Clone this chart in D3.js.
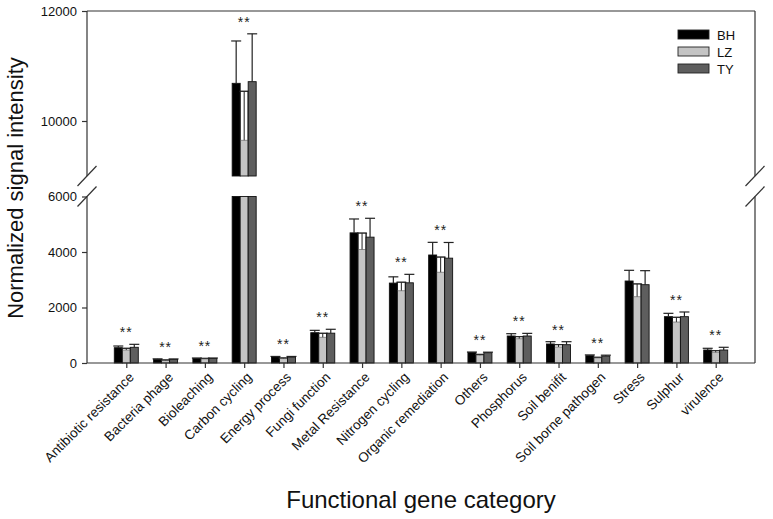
<!DOCTYPE html>
<html><head><meta charset="utf-8">
<script src="https://cdn.jsdelivr.net/npm/d3@7"></script>
<style>
body{margin:0;background:#fff;}
text{font-family:"Liberation Sans",Arial,sans-serif;}
</style></head>
<body><svg id="c" width="773" height="519"></svg>
<script>
const categories = ["Antibiotic resistance","Bacteria phage","Bioleaching","Carbon cycling","Energy process","Fungi function","Metal Resistance","Nitrogen cycling","Organic remediation","Others","Phosphorus","Soil benifit","Soil borne pathogen","Stress","Sulphur","virulence"];
const seriesNames = ["BH","LZ","TY"];
const BH = [551,131,167,10685,216,1092,4690,2880,3892,380,973,685,263,2955,1670,468];
const LZ = [529,108,167,10540,180,1070,4680,2910,3815,310,948,660,205,2847,1646,443];
const TY = [566,131,167,10715,216,1075,4535,2890,3778,370,973,660,252,2822,1670,468];
const BHerr = [61,18,12,770,20,85,500,225,456,15,83,83,28,385,120,62];
const LZerr = [61,15,20,891,20,144,590,305,545,30,72,83,20,457,169,58];
const TYerr = [107,15,12,870,20,140,680,305,565,20,95,108,30,505,168,98];
const sig = ["**","**","**","**","**","**","**","**","**","**","**","**","**","","**","**"];
const lowTicks = [0,2000,4000,6000];
const highTicks = [10000,12000];

const colors = ["#000000","#c4c4c4","#5e5e5e"];
const svg = d3.select("#c");
const L = 87, R = 755, T = 11, B = 363;
const lowTop = 196.5, highBot = 176;
const x = d3.scalePoint().domain(categories).range([L,R]).padding(1);
const yLow = d3.scaleLinear().domain([0,6000]).range([B,lowTop]);
const yHigh = d3.scaleLinear().domain([9000,12000]).range([highBot,T]);
const yPos = v => v <= 6000 ? yLow(v) : yHigh(v);
const bw = 8, cap = 10;

const vals = [BH,LZ,TY], errs = [BHerr,LZerr,TYerr];
const g = svg.append("g");
categories.forEach((c,i)=>{
  const cx = x(c);
  vals.forEach((arr,s)=>{
    const v = arr[i], e = errs[s][i];
    const x0 = cx - 12 + s*bw;
    const segs = v > 6000 ? [[0,6000,yLow],[9000,v,yHigh]] : [[0,v,yLow]];
    segs.forEach(([a,b,sc])=>{
      g.append("rect").attr("x",x0).attr("y",sc(b)).attr("width",bw).attr("height",sc(a)-sc(b))
        .attr("fill",colors[s]).attr("stroke","#111").attr("stroke-width",0.9);
    });
    if (s === 1) {
      const yt = yPos(v), yb = yPos(v - e);
      g.append("rect").attr("x",x0+0.5).attr("y",yt).attr("width",bw-1).attr("height",yb-yt).attr("fill","#fff");
      g.append("line").attr("x1",x0).attr("x2",x0).attr("y1",yt).attr("y2",yb).attr("stroke","#111").attr("stroke-width",0.9);
      g.append("line").attr("x1",x0+bw).attr("x2",x0+bw).attr("y1",yt).attr("y2",yb).attr("stroke","#111").attr("stroke-width",0.9);
      g.append("line").attr("x1",x0+bw/2).attr("x2",x0+bw/2).attr("y1",yt).attr("y2",yb).attr("stroke","#222").attr("stroke-width",1);
      g.append("line").attr("x1",x0+bw/2-cap/2).attr("x2",x0+bw/2+cap/2).attr("y1",yt).attr("y2",yt).attr("stroke","#222").attr("stroke-width",1.2);
      g.append("line").attr("x1",x0).attr("x2",x0+bw).attr("y1",yb).attr("y2",yb).attr("stroke","#555").attr("stroke-width",0.6);
    } else {
      const yt = yPos(v+e), yb = yPos(v);
      g.append("line").attr("x1",x0+bw/2).attr("x2",x0+bw/2).attr("y1",yt).attr("y2",yb).attr("stroke","#222").attr("stroke-width",1.2);
      g.append("line").attr("x1",x0+bw/2-cap/2).attr("x2",x0+bw/2+cap/2).attr("y1",yt).attr("y2",yt).attr("stroke","#222").attr("stroke-width",1.2);
    }
  });
  if (sig[i]) {
    const top = Math.min(yPos(BH[i]+BHerr[i]), yPos(LZ[i]), yPos(TY[i]+TYerr[i]));
    g.append("text").attr("x",cx).attr("y",top-7).attr("text-anchor","middle")
      .attr("font-size",14).attr("letter-spacing",1).attr("fill","#222").text(sig[i]);
  }
});

// frame / spines
const st = {stroke:"#333","stroke-width":1.2};
function ln(x1,y1,x2,y2){const l=svg.append("line").attr("x1",x1).attr("y1",y1).attr("x2",x2).attr("y2",y2);Object.entries(st).forEach(([k,v])=>l.attr(k,v));return l;}
ln(L,T,R,T); ln(L,B,R,B);
ln(L,T,L,highBot); ln(L,lowTop,L,B);
ln(R,T,R,highBot); ln(R,lowTop,R,B);
[L,R].forEach(xx=>{
  [highBot,lowTop].forEach(yy=>{ ln(xx-9.5,yy+10,xx+9.5,yy-10); });
});

// axes
const axStyle = sel => { sel.select(".domain").remove(); sel.selectAll("line").attr("stroke","#333").attr("stroke-width",1.2);
  sel.selectAll("text").attr("font-size",13).attr("fill","#111").style("font-family","Liberation Sans, Arial, sans-serif"); };
svg.append("g").attr("transform",`translate(${L},0)`).call(d3.axisLeft(yLow).tickValues(lowTicks).tickSize(5).tickPadding(5).tickFormat(d3.format("d"))).call(axStyle);
svg.append("g").attr("transform",`translate(${L},0)`).call(d3.axisLeft(yHigh).tickValues(highTicks).tickSize(5).tickPadding(5).tickFormat(d3.format("d"))).call(axStyle);
const xa = svg.append("g").attr("transform",`translate(0,${B})`).call(d3.axisBottom(x).tickSize(5)).call(axStyle);
xa.selectAll("text").attr("text-anchor","end").attr("dy",null).attr("y",null).attr("font-size",13.5)
  .attr("transform","translate(8,15) rotate(-45)");

// titles
svg.append("text").attr("transform","translate(23,188) rotate(-90)").attr("text-anchor","middle")
  .attr("font-size",22).attr("fill","#111").text("Normalized signal intensity");
svg.append("text").attr("x",(L+R)/2).attr("y",508).attr("text-anchor","middle")
  .attr("font-size",24).attr("fill","#111").text("Functional gene category");

// legend
seriesNames.forEach((n,s)=>{
  const yy = 30 + s*17;
  svg.append("rect").attr("x",678).attr("y",yy).attr("width",31).attr("height",9).attr("fill",colors[s]).attr("stroke","#222").attr("stroke-width",0.9);
  svg.append("text").attr("x",717).attr("y",yy+9.5).attr("font-size",13).attr("fill","#111").text(n);
});
</script></body></html>
